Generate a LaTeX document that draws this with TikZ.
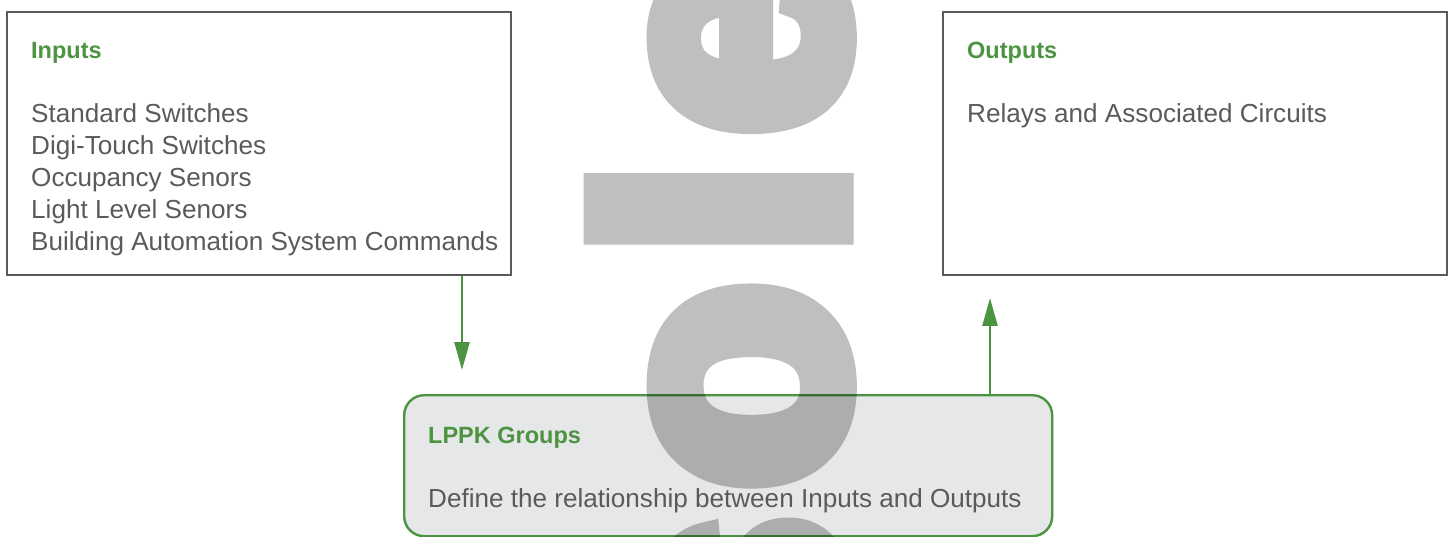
\documentclass[tikz,border=0pt]{standalone}
\usepackage{fontspec}
\setmainfont{Liberation Sans}
\newfontfamily\markfont[FakeBold=7.4, LetterSpace=8]{Liberation Sans Bold}
\usetikzlibrary{arrows.meta, positioning}
\definecolor{lgreen}{RGB}{76,148,66}
\definecolor{lgray}{RGB}{90,90,90}
\definecolor{lfill}{RGB}{230,231,232}
\tikzset{
	iobox/.style={draw=lgray, line width=2.4pt, minimum width=504pt, minimum height=263pt, anchor=north west, inner sep=0pt},
	groupbox/.style={draw=lgreen, fill=lfill, line width=2.4pt, rounded corners=20pt, minimum width=648pt, minimum height=141pt, anchor=north west, inner sep=0pt},
	heading/.style={anchor=base west, inner sep=0pt, text=lgreen, font=\fontsize{23.5}{28}\selectfont\bfseries},
	body/.style={anchor=base west, inner sep=0pt, text=lgray, font=\fontsize{26.1}{32}\selectfont},
	flow/.style={draw=lgreen, line width=2.6pt, -{Triangle[length=28pt, width=15pt]}},
	stamp/.style={anchor=base west, inner sep=0pt, rotate=90, text=black, font=\markfont\fontsize{338}{338}\selectfont}
}

\begin{document}
\begin{tikzpicture}[x=1pt, y=-1pt]
		\useasboundingbox (0,0) rectangle (1451,537);
		\node[iobox] (inputs) at (6,11) {};
		\node[iobox] (outputs) at (942,11) {};
		\node[groupbox] (lppk) at (403,394) {};

		\node[heading] (inhead) at (31,59) {Inputs};
		\foreach \txt [count=\i] in {Standard Switches, Digi-Touch Switches, Occupancy Senors, Light Level Senors, Building Automation System Commands}
		  \node[body] (in\i) at (31,91+32*\i) {\txt};

		\node[heading] (outhead) at (967,59) {Outputs};
		\node[body] (out1) at (967,123) {Relays and Associated Circuits};

		\node[heading] (lppkhead) at (428,443) {LPPK Groups};
		\node[body] (lppk1) at (428,507) {Define the relationship between Inputs and Outputs};

		\coordinate (indrop) at (462,370);
		\coordinate (outrise) at (990,298);
		\draw[flow] (inputs.south -| indrop) -- (indrop);
		\draw[flow] (lppk.north -| outrise) -- (outrise);

		\begin{scope}[transparency group, opacity=0.25]% watermark
		  \node[stamp] (mark) at (841,1228) {Obsolete};
		\end{scope}
	\end{tikzpicture}
\end{document}
